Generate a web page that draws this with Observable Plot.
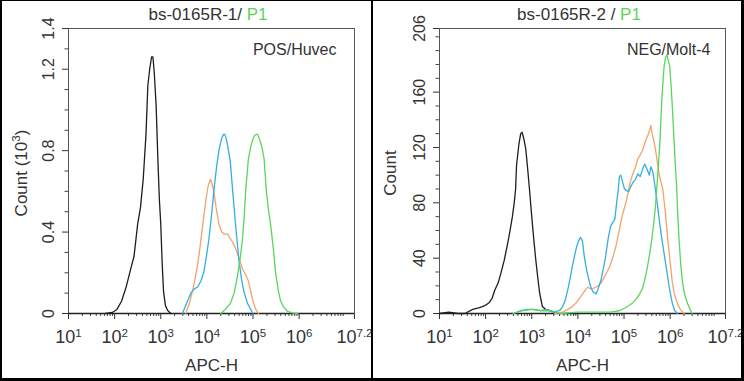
<!DOCTYPE html>
<html><head><meta charset="utf-8">
<script src="https://cdn.jsdelivr.net/npm/d3@7"></script>
<script src="https://cdn.jsdelivr.net/npm/@observablehq/plot@0.6"></script>
<style>
body{margin:0;background:#fff;}
#wrap{position:relative;width:744px;height:381px;overflow:hidden;background:#fff;font-family:"Liberation Sans",Arial,sans-serif;}
.panel{position:absolute;top:0;width:372px;height:381px;}
.title{position:absolute;top:5px;line-height:20px;font-size:17px;color:#333;white-space:nowrap;transform:translateX(-50%);}
.title .g{color:#5fd35f;}
.bd{position:absolute;background:#000;}
</style></head><body><div id="wrap"></div>
<script>
// ---------- data (x as log10 exponent, y = count) ----------
const xTickExp = [1, 2, 3, 4, 5, 6, 7.2];
const xTickLabels = ["10^{1}", "10^{2}", "10^{3}", "10^{4}", "10^{5}", "10^{6}", "10^{7.2}"];

// Left panel: POS/Huvec, counts in 10^3
const leftYTicks = [0, 0.4, 0.8, 1.2, 1.4];
const leftYTickLabels = ["0", "0.4", "0.8", "1.2", "1.4"];
const leftYMinor = [0.1, 0.2, 0.3, 0.5, 0.6, 0.7, 0.9, 1.0, 1.1, 1.3];

const leftBlackU = [1.8,1.95,2.05,2.15,2.25,2.35,2.42,2.5,2.56,2.62,2.68,2.72,2.76,2.8,2.83,2.86,2.9,2.94,2.97,3.0,3.03,3.06,3.1,3.15,3.22];
const leftBlackV = [0,0.005,0.02,0.06,0.13,0.22,0.28,0.44,0.52,0.66,0.88,1.12,1.2,1.26,1.26,1.18,1.02,0.74,0.56,0.44,0.25,0.11,0.04,0.015,0];

const leftOrangeU = [3.54,3.62,3.69,3.76,3.82,3.88,3.93,3.98,4.03,4.08,4.12,4.15,4.2,4.26,4.32,4.38,4.45,4.5,4.56,4.62,4.7,4.77,4.84,4.9,4.95,5.0,5.06,5.12];
const leftOrangeV = [0,0.05,0.11,0.19,0.27,0.38,0.47,0.56,0.63,0.66,0.63,0.6,0.52,0.44,0.4,0.39,0.39,0.37,0.35,0.32,0.27,0.22,0.19,0.16,0.11,0.06,0.02,0];

const leftBlueU = [3.47,3.56,3.65,3.72,3.8,3.87,3.93,3.99,4.04,4.1,4.15,4.21,4.26,4.32,4.36,4.39,4.42,4.47,4.51,4.56,4.62,4.69,4.75,4.8,4.88,4.95,5.0];
const leftBlueV = [0,0.05,0.1,0.12,0.13,0.16,0.2,0.28,0.36,0.48,0.6,0.72,0.8,0.86,0.88,0.88,0.86,0.8,0.74,0.6,0.44,0.27,0.17,0.11,0.05,0.02,0];

const leftGreenU = [4.3,4.4,4.51,4.59,4.66,4.72,4.77,4.81,4.84,4.9,4.96,5.02,5.06,5.1,5.15,5.2,5.24,5.29,5.34,5.38,5.44,5.49,5.55,5.6,5.67,5.75,5.85,5.97];
const leftGreenV = [0,0.02,0.05,0.1,0.18,0.27,0.36,0.48,0.6,0.76,0.83,0.87,0.88,0.88,0.85,0.81,0.76,0.6,0.5,0.44,0.32,0.2,0.11,0.06,0.03,0.01,0.003,0];

// Right panel: NEG/Molt-4
const rightYTicks = [0, 40, 80, 120, 160, 206];
const rightYTickLabels = ["0", "40", "80", "120", "160", "206"];
const rightYMinor = [10,20,30,50,60,70,90,100,110,130,140,150,170,180,190,200];

const rightBlackU = [1.0,1.2,1.4,1.55,1.72,1.85,1.93,2.0,2.08,2.14,2.2,2.27,2.33,2.4,2.48,2.53,2.58,2.62,2.65,2.67,2.72,2.76,2.79,2.83,2.87,2.91,2.95,3.0,3.04,3.08,3.13,3.17,3.23,3.3,3.4,3.5,3.6];
const rightBlackV = [0,1,0,0,3,4,5,6,8,11,17,22,29,38,51,60,70,80,90,107,122,130,131,126,119,105,90,70,55,41,26,15,5,3,2,1,0];

const rightOrangeU = [3.5,3.67,3.78,3.88,3.97,4.06,4.14,4.21,4.27,4.32,4.38,4.44,4.5,4.57,4.63,4.69,4.76,4.82,4.88,4.93,4.98,5.04,5.08,5.12,5.18,5.24,5.3,5.34,5.4,5.47,5.52,5.56,5.58,5.61,5.65,5.68,5.72,5.77,5.84,5.9,5.95,6.0,6.05,6.1,6.16,6.22,6.3];
const rightOrangeV = [0,1,3,5,8,12,16,19,18,18,19,20,22,26,30,34,41,48,57,66,73,80,86,93,100,105,112,114,118,125,129,133,136,130,124,119,110,99,90,72,53,37,22,13,7,3,0];

const rightBlueU = [2.6,2.75,2.9,3.05,3.2,3.3,3.45,3.6,3.67,3.73,3.8,3.88,3.93,3.97,4.02,4.06,4.1,4.14,4.18,4.22,4.27,4.32,4.36,4.39,4.43,4.5,4.55,4.6,4.66,4.71,4.76,4.8,4.84,4.87,4.9,4.93,4.97,5.01,5.05,5.1,5.15,5.2,5.25,5.3,5.35,5.4,5.45,5.5,5.55,5.58,5.62,5.65,5.68,5.72,5.77,5.82,5.88,5.94,5.99,6.05,6.1,6.16];
const rightBlueV = [0,2,3,3,2,3,1,2,5,10,20,34,42,48,53,55,52,41,33,27,20,16,15,14,17,24,32,41,55,63,66,68,80,88,99,100,95,90,89,88,92,95,97,101,99,104,108,104,100,106,103,97,90,80,66,54,41,28,17,7,2,0];

const rightGreenU = [2.6,2.8,3.0,3.2,3.4,3.6,4.0,4.4,4.7,4.9,5.02,5.12,5.2,5.25,5.32,5.4,5.46,5.51,5.56,5.6,5.64,5.68,5.72,5.77,5.8,5.82,5.85,5.87,5.9,5.93,5.96,5.99,6.02,6.05,6.08,6.11,6.14,6.16,6.19,6.23,6.27,6.32,6.38,6.43,6.48];
const rightGreenV = [0,2,3,2,2,0,1,1,1,2,4,6,8,10,13,18,26,34,44,53,64,77,95,119,140,155,170,179,185,187,183,179,165,148,128,109,92,75,55,35,22,13,7,3,0];

const colors = {black: "#1e1e1e", orange: "#f2a36e", blue: "#35aee0", green: "#5ad65a"};

// ---------- helpers ----------
const rows = (us, vs) => us.map((u, i) => ({x: Math.pow(10, u), y: vs[i]}));
const xMajor = xTickExp.map(e => Math.pow(10, e));
const xMinor = [];
for (let k = 1; k <= 7; k++) for (let d = 2; d <= 9; d++) { const v = d * Math.pow(10, k); if (v < Math.pow(10, 7.2)) xMinor.push(v); }

function supify(svg) {
  d3.select(svg).selectAll("text").each(function () {
    const t = this.textContent;
    const m = t.match(/^(.*)\^\{(.*?)\}(.*)$/);
    if (!m) return;
    const sel = d3.select(this);
    const fs = parseFloat(sel.attr("font-size")) || 16;
    sel.text(null);
    sel.append("tspan").text(m[1]);
    sel.append("tspan").attr("dy", -0.42 * fs).attr("font-size", 0.72 * fs).text(m[2]);
    if (m[3]) sel.append("tspan").attr("dy", 0.42 * fs).text(m[3]);
  });
}

function panel(o) {
  const svg = Plot.plot({
    width: 372, height: 381,
    marginLeft: o.ml, marginRight: o.mr, marginTop: 28, marginBottom: 68,
    style: {fontFamily: "'Liberation Sans', Arial, sans-serif", background: "transparent", color: "#333", overflow: "visible"},
    x: {type: "log", domain: [10, Math.pow(10, 7.2)]},
    y: {domain: o.yDomain},
    marks: [
      Plot.axisY(o.yMinor, {tickSize: 3.5, tickFormat: () => "", label: null, stroke: "#444"}),
      Plot.axisY(o.yTicks, {tickSize: 6, tickFormat: () => "", label: null, stroke: "#333"}),
      Plot.axisX(xMinor, {tickSize: 3, tickFormat: () => "", label: null, stroke: "#444"}),
      Plot.axisX(xMajor, {tickSize: 6, tickFormat: () => "", label: null, stroke: "#333"}),
      Plot.text(xMajor, {x: d => d, frameAnchor: "bottom", dy: 24, text: (d, i) => xTickLabels[i], fontSize: 18, textAnchor: "middle", lineAnchor: "middle", fill: "#333"}),
      Plot.text(o.yTicks, {y: d => d, frameAnchor: "left", dx: -20, rotate: -90, text: (d, i) => o.yTickLabels[i], fontSize: 16, textAnchor: "middle", lineAnchor: "middle", fill: "#333"}),
      Plot.text([o.yLabel], {frameAnchor: "left", dx: o.ylabDx, dy: 2, rotate: -90, text: d => d, fontSize: 17, textAnchor: "middle", lineAnchor: "middle", fill: "#333"}),
      Plot.text(["APC-H"], {frameAnchor: "bottom", dy: 52, text: d => d, fontSize: 17, textAnchor: "middle", lineAnchor: "middle", fill: "#333"}),
      Plot.text([o.note], {frameAnchor: "top-right", dx: o.noteDx, dy: 21, text: d => d, fontSize: 16, textAnchor: "end", lineAnchor: "middle", fill: "#333"}),
      Plot.frame({stroke: "#555", strokeWidth: 1}),
      Plot.ruleY([o.yDomain[0]], {stroke: "#222", strokeWidth: 1.3}),
      ...o.lines.map(l => Plot.line(rows(l.u, l.v), {x: "x", y: "y", stroke: l.color, strokeWidth: 1.3}))
    ]
  });
  supify(svg);
  return svg;
}

const wrap = document.getElementById("wrap");
function addPanel(left, svg, title, titleX) {
  const div = document.createElement("div");
  div.className = "panel"; div.style.left = left + "px";
  div.appendChild(svg);
  wrap.appendChild(div);
  const t = document.createElement("div");
  t.className = "title"; t.style.left = titleX + "px";
  t.innerHTML = title[0] + '<span class="g">' + title[1] + "</span>";
  wrap.appendChild(t);
}

addPanel(0, panel({
  ml: 68, mr: 18, yDomain: [0, 1.4], yTicks: leftYTicks, yTickLabels: leftYTickLabels, yMinor: leftYMinor,
  yLabel: "Count (10^{3})", ylabDx: -47, note: "POS/Huvec", noteDx: -18,
  lines: [
    {u: leftBlackU, v: leftBlackV, color: colors.black},
    {u: leftOrangeU, v: leftOrangeV, color: colors.orange},
    {u: leftBlueU, v: leftBlueV, color: colors.blue},
    {u: leftGreenU, v: leftGreenV, color: colors.green}
  ]
}), ["bs-0165R-1/ ", "P1"], 208);

addPanel(372, panel({
  ml: 67, mr: 19, yDomain: [0, 206], yTicks: rightYTicks, yTickLabels: rightYTickLabels, yMinor: rightYMinor,
  yLabel: "Count", ylabDx: -49, note: "NEG/Molt-4", noteDx: -15,
  lines: [
    {u: rightBlackU, v: rightBlackV, color: colors.black},
    {u: rightOrangeU, v: rightOrangeV, color: colors.orange},
    {u: rightBlueU, v: rightBlueV, color: colors.blue},
    {u: rightGreenU, v: rightGreenV, color: colors.green}
  ]
}), ["bs-0165R-2 / ", "P1"], 579);

// borders
[[0,0,2,381],[0,0,744,1],[741,0,3,381],[0,378,744,3],[371,0,2,381]].forEach(([x,y,w,h]) => {
  const b = document.createElement("div"); b.className = "bd";
  Object.assign(b.style, {left: x + "px", top: y + "px", width: w + "px", height: h + "px"});
  wrap.appendChild(b);
});
</script>
</body></html>
